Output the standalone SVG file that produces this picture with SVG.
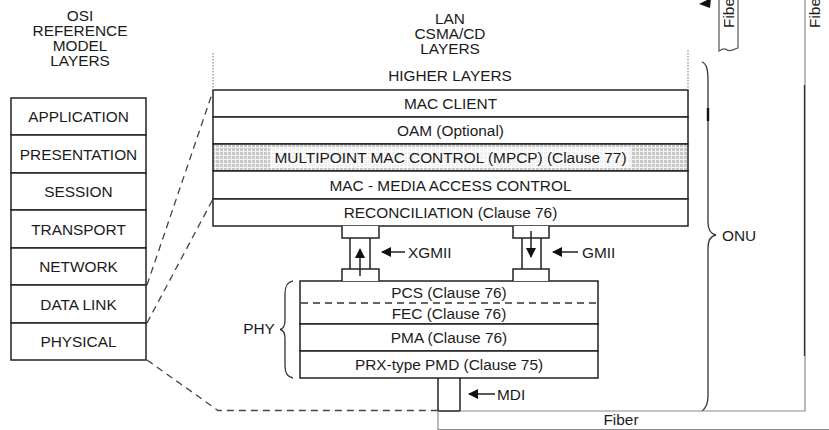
<svg xmlns="http://www.w3.org/2000/svg" width="829" height="430" viewBox="0 0 829 430">
<style>
.t{font-family:"Liberation Sans",Arial,sans-serif;font-size:15.4px;fill:#1b1b1b;text-anchor:middle}
.ts{text-anchor:start}
.bx{fill:#fff;stroke:#222;stroke-width:1.5}
.ln{fill:none;stroke:#222;stroke-width:1.5}
.dash{fill:none;stroke:#444;stroke-width:1.3;stroke-dasharray:7,5}
.dot{fill:none;stroke:#888;stroke-width:1.2;stroke-dasharray:1.5,1.5}
.gr{fill:none;stroke:#8a8a8a;stroke-width:1.2}
.br{fill:none;stroke:#333;stroke-width:1.3}
</style>
<defs>
<pattern id="chk" width="4" height="4" patternUnits="userSpaceOnUse">
<rect width="4" height="4" fill="#f2f2f2"/>
<rect width="3" height="3" fill="#c8c8c8"/>
</pattern>
<marker id="ah" viewBox="0 0 10 10" refX="9" refY="5" markerWidth="10" markerHeight="10" markerUnits="userSpaceOnUse" orient="auto">
<path d="M0,0 L10,5 L0,10 z" fill="#111"/>
</marker>
</defs>

<!-- Titles -->
<g id="osi-title">
<text class="t" x="80" y="21">OSI</text>
<text class="t" x="80" y="36">REFERENCE</text>
<text class="t" x="80" y="51">MODEL</text>
<text class="t" x="80" y="66">LAYERS</text>
</g>
<g id="lan-title">
<text class="t" x="450" y="24">LAN</text>
<text class="t" x="450" y="39">CSMA/CD</text>
<text class="t" x="450" y="54">LAYERS</text>
</g>

<!-- OSI stack -->
<g id="osi-application"><rect class="bx" x="11" y="98" width="135" height="37"/><text class="t" x="78.5" y="122">APPLICATION</text></g>
<g id="osi-presentation"><rect class="bx" x="11" y="135" width="135" height="38"/><text class="t" x="78.5" y="159.5">PRESENTATION</text></g>
<g id="osi-session"><rect class="bx" x="11" y="173" width="135" height="37"/><text class="t" x="78.5" y="197">SESSION</text></g>
<g id="osi-transport"><rect class="bx" x="11" y="210" width="135" height="38"/><text class="t" x="78.5" y="234.5">TRANSPORT</text></g>
<g id="osi-network"><rect class="bx" x="11" y="248" width="135" height="37"/><text class="t" x="78.5" y="272">NETWORK</text></g>
<g id="osi-datalink"><rect class="bx" x="11" y="285" width="135" height="38"/><text class="t" x="78.5" y="309.5">DATA LINK</text></g>
<g id="osi-physical"><rect class="bx" x="11" y="323" width="135" height="37"/><text class="t" x="78.5" y="347">PHYSICAL</text></g>

<!-- LAN stack -->
<g id="higher-layers"><text class="t" x="450" y="81">HIGHER LAYERS</text></g>
<g id="mac-client"><rect class="bx" x="213" y="90" width="475" height="27"/><text class="t" x="450.5" y="109">MAC CLIENT</text></g>
<g id="oam"><rect class="bx" x="213" y="117" width="475" height="27"/><text class="t" x="450.5" y="136">OAM (Optional)</text></g>
<g id="mpcp"><rect class="bx" x="213" y="144" width="475" height="27" fill="url(#chk)" style="fill:url(#chk)"/><rect x="270" y="147" width="361" height="21" fill="#fff" opacity="0.75"/><text class="t" x="450.5" y="163">MULTIPOINT MAC CONTROL (MPCP) (Clause 77)</text></g>
<g id="mac"><rect class="bx" x="213" y="171" width="475" height="28"/><text class="t" x="450.5" y="190.5">MAC - MEDIA ACCESS CONTROL</text></g>
<g id="reconciliation"><rect class="bx" x="213" y="199" width="475" height="27"/><text class="t" x="450.5" y="218">RECONCILIATION (Clause 76)</text></g>

<!-- PHY stack -->
<g id="pcs-fec"><rect class="bx" x="300" y="281" width="298" height="43"/><line class="dash" x1="301" y1="303" x2="598" y2="303" style="stroke:#333"/><text class="t" x="449" y="297.5">PCS (Clause 76)</text><text class="t" x="449" y="319">FEC (Clause 76)</text></g>
<g id="pma"><rect class="bx" x="300" y="324" width="298" height="27"/><text class="t" x="449" y="343">PMA (Clause 76)</text></g>
<g id="pmd"><rect class="bx" x="300" y="351" width="298" height="27"/><text class="t" x="449" y="370">PRX-type PMD (Clause 75)</text></g>

<!-- XGMII interface -->
<g id="xgmii">
<path class="bx" d="M342,226 V238 H379 V226"/>
<path class="ln" d="M350,238 V269 M370,238 V269"/>
<path class="bx" d="M342,281 V269 H379 V281"/>
<line class="ln" x1="360" y1="276" x2="360" y2="249" marker-end="url(#ah)"/>
<line class="ln" x1="405" y1="252" x2="382" y2="252" marker-end="url(#ah)"/>
<text class="t ts" x="408" y="257.5">XGMII</text>
</g>
<!-- GMII interface -->
<g id="gmii">
<path class="bx" d="M513,226 V238 H549 V226"/>
<path class="ln" d="M522,238 V269 M541,238 V269"/>
<path class="bx" d="M513,281 V269 H549 V281"/>
<line class="ln" x1="531" y1="231" x2="531" y2="257" marker-end="url(#ah)"/>
<line class="ln" x1="578" y1="252" x2="553" y2="252" marker-end="url(#ah)"/>
<text class="t ts" x="582" y="257.5">GMII</text>
</g>
<!-- MDI -->
<g id="mdi">
<path class="ln" d="M438,378 V411 M460,378 V411 M438,411 H460"/>
<line class="ln" x1="495" y1="394" x2="469" y2="394" marker-end="url(#ah)"/>
<text class="t ts" x="497" y="399.5">MDI</text>
</g>

<!-- PHY brace -->
<g id="phy">
<path class="br" d="M293,281 C287,282 285,286 285,294 L285,320 C285,326 283,329 280,329.5 C283,330 285,333 285,339 L285,366 C285,373 287,377 293,378"/>
<text class="t" x="259" y="334">PHY</text>
</g>

<!-- ONU brace -->
<g id="onu">
<path class="br" d="M702,62 C707,64 708,70 708,82 L708,222 C708,230 711,234 716,235 C711,236 708,240 708,248 L708,396 C708,404 706,408 702,411"/>
<line x1="708" y1="108" x2="708" y2="121" stroke="#111" stroke-width="2.4"/>
<text class="t ts" x="722" y="240.5">ONU</text>
</g>

<!-- Fiber -->
<g id="fiber">
<path class="gr" d="M460,411 H805 V0"/>
<line x1="804.5" y1="85" x2="804.5" y2="356" stroke="#333" stroke-width="1.3"/>
<path class="gr" d="M438,411 V429.5 H829"/>
<text class="t" x="621" y="425">Fiber</text>
<text class="t ts" transform="translate(820,28) rotate(-90)">Fiber</text>
</g>
<g id="fiber-top">
<path class="gr" d="M719,-1 V51 C722,49 725,48 727,50 C729,52 732,50 738,48 V-1" style="stroke:#555"/>
<text class="t ts" transform="translate(733.5,28) rotate(-90)">Fiber</text>
<polygon points="699,4 711,-2 710,8" fill="#111"/>
</g>

<!-- Connectors -->
<g id="connectors">
<line class="dot" x1="213" y1="53" x2="213" y2="90"/>
<line class="dot" x1="688" y1="50" x2="688" y2="90"/>
<line class="dash" x1="147" y1="285" x2="213" y2="91"/>
<line class="dash" x1="147" y1="323" x2="213" y2="199"/>
<path class="dash" d="M147,360 L218,410.5 H438"/>
</g>
</svg>
